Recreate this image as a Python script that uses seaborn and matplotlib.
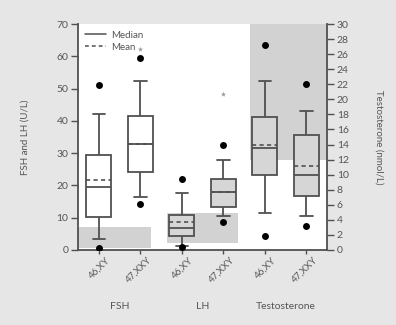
import numpy as np
import pandas as pd
import matplotlib
matplotlib.use("Agg")
import matplotlib.pyplot as plt
from matplotlib.lines import Line2D
from matplotlib import transforms
import seaborn as sns

# ---------------- data ----------------
hormones = ["FSH", "FSH", "LH", "LH", "Testosterone", "Testosterone"]
karyotypes = ["46,XY", "47,XXY", "46,XY", "47,XXY", "46,XY", "47,XXY"]
whislo = [3.3, 16.5, 1.2, 10.6, 4.95, 4.55]
q1 = [10.1, 24.0, 4.4, 13.4, 10.0, 7.1]
median = [19.6, 32.7, 6.7, 17.9, 13.6, 10.0]
q3 = [29.4, 41.6, 10.9, 22.0, 17.6, 15.3]
whishi = [42.1, 52.4, 17.7, 28.0, 22.4, 18.4]
means = [21.7, 32.7, 8.6, 17.9, 14.0, 11.1]
outliers = [[51.0, 0.7], [59.6, 14.1], [22.0, 0.8], [32.5, 8.8], [27.2, 1.9], [22.0, 3.2]]
extremes = [[], [62.2], [], [48.3], [], []]
# reference ranges (grey bands)
ref_hormone = ["FSH", "LH", "Testosterone"]
ref_low = [0.5, 2.1, 12.0]
ref_high = [7.0, 11.4, 30.0]

# ---------------- layout / style ----------------
keys = [f"{h} {k}" for h, k in zip(hormones, karyotypes)]
ref_span = {"FSH": (-0.5, 1.25), "LH": (1.64, 3.36), "Testosterone": (3.64, 5.5)}
box_w = 0.6
GREYBOX = "#d6d6d6"
fills = {k: ("white" if h == "FSH" else GREYBOX) for k, h in zip(keys, hormones)}
LC = "#505050"
TXT = "#555555"
BG = "#e6e6e6"

box_rows, out_rows, ext_rows = [], [], []
for k, h, a, b, c, d, e, o, x in zip(keys, hormones, whislo, q1, median, q3, whishi, outliers, extremes):
    for v in (a, b, c, d, e):
        box_rows.append({"key": k, "hormone": h, "value": v})
    for v in o:
        out_rows.append({"key": k, "hormone": h, "value": v})
    for v in x:
        ext_rows.append({"key": k, "hormone": h, "value": v})
box_df = pd.DataFrame(box_rows)
out_df = pd.DataFrame(out_rows)
ext_df = pd.DataFrame(ext_rows)

sns.set_theme(style="white")
plt.rcParams["font.family"] = ["Lato", "DejaVu Sans"]

fig = plt.figure(figsize=(3.96, 3.25), dpi=100, facecolor=BG)
ax = fig.add_axes([0.197, 0.231, 0.629, 0.695])
ax.set_facecolor("white")
ax2 = ax.twinx()

is_t = box_df["hormone"] == "Testosterone"
common = dict(x="key", y="value", hue="key", order=keys, palette=fills, legend=False,
              saturation=1, width=box_w, whis=(0, 100), linecolor=LC, linewidth=1.3,
              showfliers=False)

# grey reference bands
for h, lo, hi in zip(ref_hormone, ref_low, ref_high):
    x0, x1 = ref_span[h]
    target = ax2 if h == "Testosterone" else ax
    target.fill_between([x0, x1], lo, hi, color="#d2d2d2", lw=0, zorder=0.5)

sns.boxplot(data=box_df[~is_t], ax=ax, **common)
sns.boxplot(data=box_df[is_t], ax=ax2, **common)

pos = np.arange(len(keys))
for i, (h, m) in enumerate(zip(hormones, means)):
    target = ax2 if h == "Testosterone" else ax
    target.hlines(m, pos[i] - box_w / 2, pos[i] + box_w / 2, colors=LC,
                  linestyles=(0, (2.5, 2)), lw=1.2, zorder=3)

o_t = out_df["hormone"] == "Testosterone"
sns.stripplot(data=out_df[~o_t], x="key", y="value", order=keys, jitter=False,
              color="black", size=5, ax=ax, zorder=4)
sns.stripplot(data=out_df[o_t], x="key", y="value", order=keys, jitter=False,
              color="black", size=5, ax=ax2, zorder=4)
sns.stripplot(data=ext_df, x="key", y="value", order=keys, jitter=False,
              color="#999999", marker="*", size=4, ax=ax, zorder=4)

ax.set_xlim(-0.5, 5.5)
ax2.set_xlim(-0.5, 5.5)
ax.set_ylim(0, 70)
ax2.set_ylim(0, 30)
ax.set_yticks(np.arange(0, 71, 10))
ax2.set_yticks(np.arange(0, 31, 2))

for a in (ax, ax2):
    a.set_xlabel("")
    a.set_ylabel("")
    a.spines["top"].set_visible(False)
    for s in ("left", "right", "bottom"):
        a.spines[s].set_color(LC)
        a.spines[s].set_linewidth(1.3)
ax.spines["right"].set_visible(False)
ax2.spines["left"].set_visible(False)
ax2.spines["bottom"].set_visible(False)

ax.tick_params(axis="y", left=True, direction="out", length=5, width=1, color=LC,
               labelsize=7.5, labelcolor=TXT, pad=2)
ax2.tick_params(axis="y", right=True, direction="out", length=5, width=1, color=LC,
                labelsize=7.5, labelcolor=TXT, pad=2)
ax.tick_params(axis="x", bottom=True, direction="out", length=3, width=1, color=LC,
               labelsize=7, labelcolor=TXT, pad=1)
ax2.tick_params(axis="x", bottom=False, labelbottom=False)
ax.set_xticks(pos)
ax.set_xticklabels(karyotypes, rotation=45, ha="right", rotation_mode="anchor")
off = transforms.ScaledTranslation(5 / 72, 0, fig.dpi_scale_trans)
for lab in ax.get_xticklabels():
    lab.set_transform(lab.get_transform() + off)

ax.set_ylabel("FSH and LH (U/L)", fontsize=7, color=TXT, labelpad=19)
ax2.set_ylabel("Testosterone (nmol/L)", fontsize=7, color=TXT, rotation=-90, labelpad=25)

trans = transforms.blended_transform_factory(ax.transData, ax.transAxes)
for h in ref_hormone:
    idx = [i for i, hh in enumerate(hormones) if hh == h]
    ax.text(np.mean(pos[idx]), -0.25, h, transform=trans, ha="center", va="center",
            fontsize=7.5, color=TXT)

handles = [Line2D([], [], color=LC, lw=1.1, ls="-"),
           Line2D([], [], color=LC, lw=1.1, ls=(0, (2.5, 2)))]
ax.legend(handles, ["Median", "Mean"], loc="upper left", frameon=False, fontsize=7,
          labelcolor=TXT, handlelength=2.2, borderaxespad=0.3, labelspacing=0.3,
          handletextpad=0.5)

fig.savefig("out.png", dpi=100, facecolor=BG)
